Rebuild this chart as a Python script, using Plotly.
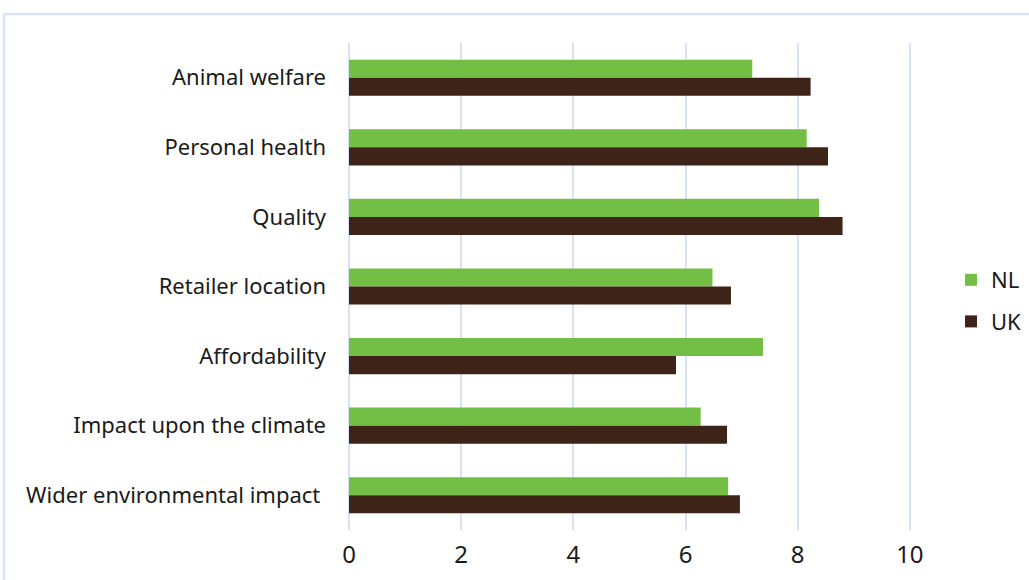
import plotly.graph_objects as go

categories = ["Animal welfare", "Personal health", "Quality", "Retailer location",
              "Affordability", "Impact upon the climate", "Wider environmental impact "]
nl_values = [7.19, 8.16, 8.38, 6.48, 7.38, 6.27, 6.76]
uk_values = [8.23, 8.54, 8.80, 6.81, 5.83, 6.74, 6.97]
x_ticks = [0, 2, 4, 6, 8, 10]

GREEN = "#73BE44"
BROWN = "#3E2418"
GRID = "#D5E3F5"

fig = go.Figure()
fig.add_trace(go.Bar(y=categories, x=nl_values, name="NL", orientation="h",
                     marker=dict(color=GREEN, line=dict(width=0)), legendgroup="nl"))
fig.add_trace(go.Bar(y=categories, x=uk_values, name="UK", orientation="h",
                     marker=dict(color=BROWN, line=dict(width=0)), legendgroup="uk"))

fig.update_layout(
    width=1029, height=580,
    margin=dict(l=349, r=118, t=43, b=50, autoexpand=False),
    paper_bgcolor="white", plot_bgcolor="white",
    barmode="group", bargap=0.48, bargroupgap=0,
    font=dict(family="Noto Sans, Open Sans, sans-serif", size=22, color="#1a1a1a"),
    showlegend=True,
    legend=dict(xref="container", yref="container", x=951 / 1029, y=1 - 301 / 580,
                xanchor="left", yanchor="middle", bgcolor="rgba(0,0,0,0)",
                font=dict(size=22), tracegroupgap=10, itemwidth=30),
    xaxis=dict(range=[0, 10.02], tickvals=x_ticks, showgrid=True, gridcolor=GRID,
               gridwidth=2, zeroline=True, zerolinecolor=GRID, zerolinewidth=2,
               showline=False, ticks="", ticklabelstandoff=8,
               tickfont=dict(size=24)),
    yaxis=dict(autorange="reversed", showgrid=False, zeroline=False, showline=False,
               ticks="", ticklabelstandoff=22),
)

# outer chart border (top and left edges visible)
fig.add_shape(type="line", xref="paper", yref="paper",
              x0=(4 - 349) / 562, x1=(1040 - 349) / 562,
              y0=1 + (43 - 14) / 487, y1=1 + (43 - 14) / 487,
              line=dict(color=GRID, width=2.5))
fig.add_shape(type="line", xref="paper", yref="paper",
              x0=(4 - 349) / 562, x1=(4 - 349) / 562,
              y0=1 + (43 - 14) / 487, y1=(530 - 600) / 487,
              line=dict(color=GRID, width=2.5))

fig.write_html("out.html", config={"displayModeBar": False},
               post_script="document.body.style.margin='0';document.body.style.overflow='hidden';")
